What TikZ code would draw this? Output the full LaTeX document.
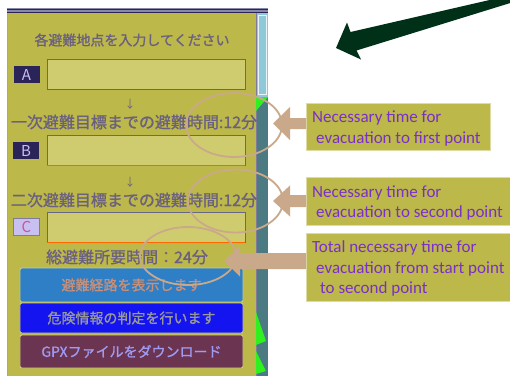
\documentclass[tikz,border=0pt]{standalone}
\usepackage{fontspec}
\setmainfont{Carlito}
\newfontfamily\jp{Noto Sans CJK JP}
\newfontfamily\jpb{Noto Sans CJK JP}[FakeBold=1.2]
\definecolor{panelbg}{HTML}{BDB84A}
\definecolor{fieldbg}{HTML}{CFCC70}
\definecolor{jptxt}{HTML}{6A6080}
\definecolor{labdark}{HTML}{2A2458}
\definecolor{lablight}{HTML}{C8C0F0}
\definecolor{tan}{HTML}{C9A98A}
\definecolor{calltxt}{HTML}{7A30C8}
\definecolor{btnone}{HTML}{2F7FC6}
\definecolor{btnonetxt}{HTML}{C89078}
\definecolor{btntwo}{HTML}{1414F0}
\definecolor{btnthree}{HTML}{6B3450}
\definecolor{stripblue}{HTML}{8FC8D8}
\definecolor{stripteal}{HTML}{4C7A82}
\definecolor{brightgreen}{HTML}{30F020}
\definecolor{darkgreen}{HTML}{003018}
\definecolor{topband}{HTML}{8A88A8}
\begin{document}
\begin{tikzpicture}[x=1bp,y=-1bp,
  jptext/.style={text=jptxt,inner sep=0pt,font=\jpb\fontsize{15bp}{17bp}\selectfont},
  labbox/.style={minimum width=26bp,minimum height=17bp,inner sep=0pt,font=\jp\fontsize{15bp}{15bp}\selectfont},
  field/.style={fill=fieldbg,draw=labdark!70,line width=0.8bp,minimum width=198bp,minimum height=30bp,inner sep=0pt},
  btn/.style={draw=panelbg!70!white,line width=0.8bp,rounded corners=2bp,minimum width=223bp,inner sep=0pt,font=\jpb\fontsize{14bp}{16bp}\selectfont},
  ring/.style={draw=tan,line width=1.8bp},
  callout/.style={fill=panelbg,draw=panelbg!50!white,line width=0.8bp,anchor=north west,inner sep=0pt},
  calltext/.style={text=calltxt,anchor=base west,inner sep=0pt,font=\fontsize{17bp}{20bp}\selectfont},
  blockarrow/.style={fill=tan}
]
\useasboundingbox (0,0) rectangle (510,376);
\clip (0,0) rectangle (510,376);
\fill[white] (0,0) rectangle (510,376);

% main panel
\fill[panelbg] (7,8) rectangle (257,376);
\draw[gray!70,line width=1bp] (7,8) -- (7,376);
\fill[topband] (7,8) rectangle (268,13);
\draw[labdark,line width=0.8bp] (7,9) -- (268,9);
\draw[labdark,line width=0.8bp] (7,12.5) -- (268,12.5);

% right strip
\fill[stripblue] (257,13) rectangle (268,97);
\draw[white!80!stripblue,line width=0.8bp] (258.5,15) rectangle (266.5,94);
\fill[stripteal] (256,97) rectangle (268,376);
\draw[labdark!60,line width=0.8bp] (256.5,13) -- (256.5,376);
\fill[brightgreen] (256,97) -- (268,97) -- (256,111) -- cycle;
\fill[brightgreen] (256,312) -- (266,341) -- (256,345) -- cycle;
\fill[brightgreen] (256,351) -- (266,371) -- (256,374) -- cycle;

% title
\node[jptext,font=\jpb\fontsize{14bp}{16bp}\selectfont] (title) at (132,40) {各避難地点を入力してください};

% point A
\node[labbox,fill=labdark,text=lablight] (la) at (26.5,74.5) {A};
\node[field] (fa) at (146,74) {};
\draw[green!70!black,line width=1.2bp] (fa.south west) -- (fa.south east);
\node[jptext,font=\jp\fontsize{11bp}{13bp}\selectfont] (d1) at (130,104) {↓};
\node[jptext,font=\jpb\fontsize{16bp}{18bp}\selectfont] (t1) at (134,122) {一次避難目標までの避難時間:12分};

% point B
\node[labbox,fill=labdark,text=lablight] (lb) at (26,150.5) {B};
\node[field] (fb) at (146,150) {};
\draw[orange!80!red,line width=1.2bp] (fb.south west) -- (fb.south east);
\node[jptext,font=\jp\fontsize{11bp}{13bp}\selectfont] (d2) at (130,182) {↓};
\node[jptext,font=\jpb\fontsize{16bp}{18bp}\selectfont] (t2) at (134,200) {二次避難目標までの避難時間:12分};

% point C
\node[labbox,fill=lablight,draw=labdark!60,text=magenta!60!gray] (lc) at (26.5,226.5) {C};
\node[field] (fc) at (146,227) {};
\draw[orange!80!red,line width=1.2bp] (fc.south west) -- (fc.south east);
\node[jptext,font=\jpb\fontsize{16bp}{18bp}\selectfont] (tt) at (127,257) {総避難所要時間：24分};

% buttons
\node[btn,fill=btnone,minimum height=34bp,text=btnonetxt] (b1) at (131.5,285) {避難経路を表示します};
\node[btn,fill=btntwo,minimum height=30bp,text=gray!80!white] (b2) at (131.5,318) {危険情報の判定を行います};
\node[btn,fill=btnthree,minimum height=33bp,text=lablight!80!blue] (b3) at (131.5,351.5) {GPXファイルをダウンロード};

% ellipses
\draw[ring] (234,125) ellipse [x radius=48, y radius=32];
\draw[ring] (235.5,201) ellipse [x radius=47.5, y radius=31.5];
\draw[ring] (188,256) ellipse [x radius=48, y radius=29];

% callout boxes
\node[callout,minimum width=184bp,minimum height=47bp] (c1) at (306,103) {};
\node[callout,minimum width=210bp,minimum height=48bp] (c2) at (306,177) {};
\node[callout,minimum width=210bp,minimum height=68bp] (c3) at (306,233) {};

\node[calltext] (c1a) at (312,122) {Necessary time for};
\node[calltext] (c1b) at (316,143) {evacuation to first point};
\node[calltext] (c2a) at (312,197) {Necessary time for};
\node[calltext] (c2b) at (316,217) {evacuation to second point};
\node[calltext] (c3a) at (312,252) {Total necessary time for};
\node[calltext] (c3b) at (316,273) {evacuation from start point};
\node[calltext] (c3c) at (320,293) {to second point};

% block arrows from callouts
\coordinate (p1) at (273,123.5);
\coordinate (p2) at (273,201);
\coordinate (p3) at (224,261);
\fill[blockarrow] (p1) -- ++(17,-16.5) -- ++(0,11) -- (c1.west |- 0,118) -- (c1.west |- 0,129) -- (290,129) -- ++(0,11) -- cycle;
\fill[blockarrow] (p2) -- ++(17,-15.5) -- ++(0,9.5) -- (c2.west |- 0,195) -- (c2.west |- 0,207) -- (290,207) -- ++(0,9.5) -- cycle;
\fill[blockarrow] (p3) -- ++(16,-15.5) -- ++(0,7.5) -- (c3.west |- 0,253) -- (c3.west |- 0,269) -- (240,269) -- ++(0,7.5) -- cycle;

% big green arrow
\fill[darkgreen] (336,48) -- (347,22.5) -- (350.5,32) -- (520,-7) -- (520,0) -- (356.5,50.5) -- (361,59.5) -- cycle;
\end{tikzpicture}
\end{document}
